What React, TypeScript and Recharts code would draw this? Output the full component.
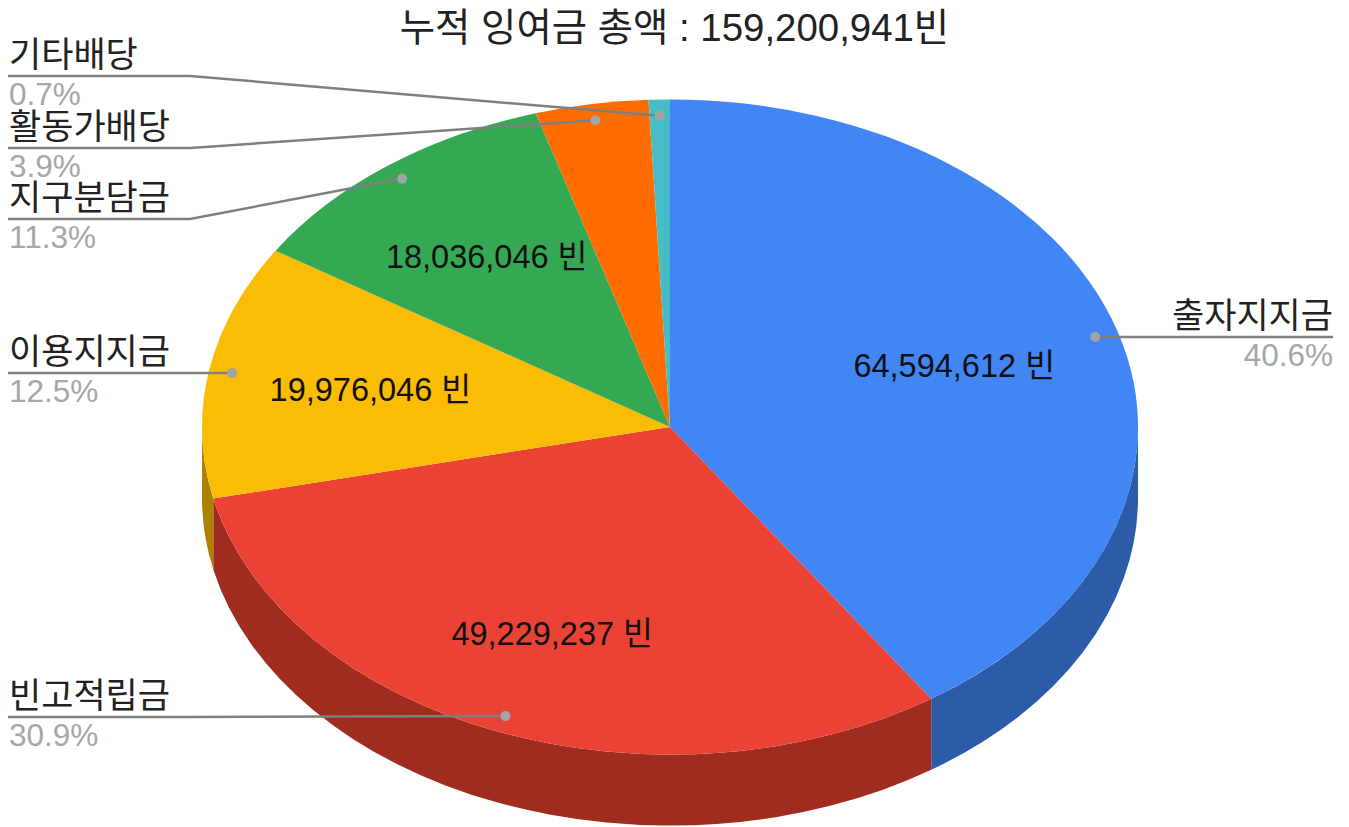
/**
 * 3D-looking pie chart of accumulated surplus. Recharts has no tilted pie, so the
 * Pie sectors get a custom shape that squashes the library's angles onto an ellipse,
 * and a second Pie underneath draws the visible side wall.
 */
import { Pie, PieChart } from "recharts";

const categories = ["출자지지금", "빈고적립금", "이용지지금", "지구분담금", "활동가배당", "기타배당"];
const amounts = [64594612, 49229237, 19976046, 18036046, 6200000, 1165000];
const percentLabels = ["40.6%", "30.9%", "12.5%", "11.3%", "3.9%", "0.7%"];
const topColors = ["#4285f4", "#ea4335", "#fbbc04", "#34a853", "#ff6d01", "#46bdc6"];
const wallColors = ["#2c5ca8", "#a02c20", "#ac8100", "#206a34", "#a04400", "#2c7a80"];

const TITLE = "누적 잉여금 총액 : 159,200,941빈";
const FONT = '"Liberation Sans", "Noto Sans CJK KR", sans-serif';

const WIDTH = 1349;
const HEIGHT = 827;
const CX = 670;
const CY = 427;
const RADIUS = 468;
const TILT = 0.7;
const DEPTH = 71;
const RAD = Math.PI / 180;

// y of the horizontal part of each leader line, same order as categories
const leaderY = [337, 717, 373, 219, 148, 76];
// how far out along the radius the amount label sits, same order
const amountReach = [0.635, 0.68, 0.65, 0.65, 0.65, 0.65];
const ELBOW_X = 190;
const LEFT_X = 8;
const RIGHT_X = 1333;

const data = categories.map((name, i) => ({
  name,
  value: amounts[i],
  fill: topColors[i],
  wall: wallColors[i],
}));

function ellipsePoint(cx: number, cy: number, r: number, angle: number, f = 1) {
  return {
    x: cx + r * f * Math.cos(angle * RAD),
    y: cy - r * TILT * f * Math.sin(angle * RAD),
  };
}

function TopSector(props: any) {
  const { cx, cy, outerRadius: r, startAngle, endAngle, fill } = props;
  const a = ellipsePoint(cx, cy, r, startAngle);
  const b = ellipsePoint(cx, cy, r, endAngle);
  const large = Math.abs(startAngle - endAngle) > 180 ? 1 : 0;
  const d = `M${cx},${cy} L${a.x},${a.y} A${r},${r * TILT} 0 ${large} 1 ${b.x},${b.y} Z`;
  return <path d={d} fill={fill} stroke="none" />;
}

function WallSector(props: any) {
  const { cx, cy, outerRadius: r, startAngle, endAngle, payload } = props;
  // only the front half of the rim is visible
  const from = Math.min(startAngle, 0);
  const to = Math.max(endAngle, -180);
  if (from <= to) return null;
  const a = ellipsePoint(cx, cy, r, from);
  const b = ellipsePoint(cx, cy, r, to);
  const d =
    `M${a.x},${a.y} A${r},${r * TILT} 0 0 1 ${b.x},${b.y} ` +
    `L${b.x},${b.y + DEPTH} A${r},${r * TILT} 0 0 0 ${a.x},${a.y + DEPTH} Z`;
  return <path d={d} fill={payload.wall ?? props.wall} stroke="none" />;
}

function SliceLabel(props: any) {
  const { cx, cy, outerRadius: r, midAngle, index, value } = props;
  const dot = ellipsePoint(cx, cy, r, midAngle, 0.95);
  const inner = ellipsePoint(cx, cy, r, midAngle, amountReach[index]);
  const y = leaderY[index];
  const onRight = dot.x > cx;
  const points = onRight
    ? `${dot.x},${y} ${RIGHT_X},${y}`
    : `${dot.x},${dot.y} ${ELBOW_X},${y} ${LEFT_X},${y}`;
  const textX = onRight ? RIGHT_X : LEFT_X + 1;
  const anchor = onRight ? "end" : "start";
  return (
    <g fontFamily={FONT}>
      {value > 10000000 && (
        <text x={inner.x} y={inner.y} dy={11} textAnchor="middle" fontSize={32.5} fill="#111">
          {value.toLocaleString("en-US")} 빈
        </text>
      )}
      <polyline points={points} fill="none" stroke="#7f7f7f" strokeWidth={2.5} />
      <circle cx={dot.x} cy={onRight ? y : dot.y} r={5} fill="#a3a3a3" />
      <text x={textX} y={y - 9} textAnchor={anchor} fontSize={35} fill="#222">
        {categories[index]}
      </text>
      <text x={textX} y={y + 29} textAnchor={anchor} fontSize={31.5} fill="#a6a6a6">
        {percentLabels[index]}
      </text>
    </g>
  );
}

export default function App() {
  return (
    <div style={{ position: "absolute", left: 0, top: 0, width: WIDTH, height: HEIGHT, background: "#fff" }}>
      <div
        style={{
          position: "absolute",
          left: 0,
          top: 6,
          width: 1349,
          textAlign: "center",
          fontFamily: FONT,
          fontSize: 38.4,
          lineHeight: "44px",
          color: "#222",
        }}
      >
        {TITLE}
      </div>
      <PieChart width={WIDTH} height={HEIGHT} margin={{ top: 0, right: 0, bottom: 0, left: 0 }}>
        <Pie
          data={data}
          dataKey="value"
          nameKey="name"
          cx={CX}
          cy={CY}
          innerRadius={0}
          outerRadius={RADIUS}
          startAngle={90}
          endAngle={-270}
          shape={WallSector}
          isAnimationActive={false}
          label={false}
          labelLine={false}
        />
        <Pie
          data={data}
          dataKey="value"
          nameKey="name"
          cx={CX}
          cy={CY}
          innerRadius={0}
          outerRadius={RADIUS}
          startAngle={90}
          endAngle={-270}
          shape={TopSector}
          isAnimationActive={false}
          label={SliceLabel}
          labelLine={false}
        />
      </PieChart>
    </div>
  );
}
